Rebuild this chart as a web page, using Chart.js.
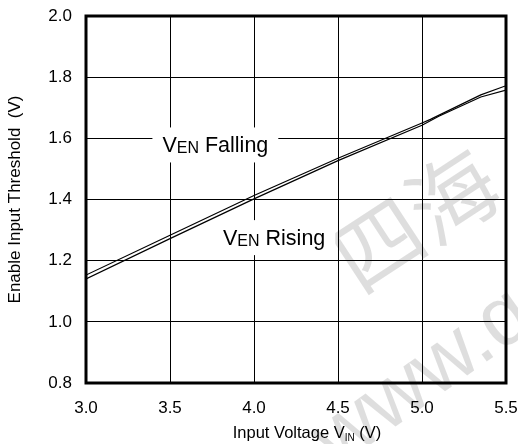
<!DOCTYPE html>
<html lang="en">
<head>
    <meta charset="UTF-8">
    <title>Enable Input Threshold</title>
    <script src="https://cdn.jsdelivr.net/npm/chart.js"></script>
    <style>
        html, body { margin: 0; padding: 0; background: #fff; }
        #wrap { width: 518px; height: 444px; }
    </style>
</head>
<body>
    <div id="wrap"><canvas id="thresholdChart"></canvas></div>

    <script>
        // values
        const vinFalling = [3.0, 3.5, 4.0, 4.5, 5.0, 5.05, 5.35, 5.5];
        const venFalling = [1.153, 1.283, 1.413, 1.535, 1.650, 1.662, 1.742, 1.772];
        const vinRising = [3.0, 3.5, 4.0, 4.5, 5.0, 5.1, 5.35, 5.5];
        const venRising = [1.140, 1.272, 1.402, 1.527, 1.643, 1.672, 1.735, 1.758];
        const xTicks = [3.0, 3.5, 4.0, 4.5, 5.0, 5.5];
        const yTicks = [0.8, 1.0, 1.2, 1.4, 1.6, 1.8, 2.0];

        const FONT = '"Liberation Sans", Arial, sans-serif';

        // label spots in data units
        const labels = [
            { sub: 'EN', rest: ' Falling', x: 3.77, y: 1.58 },
            { sub: 'EN', rest: ' Rising', x: 4.12, y: 1.277 }
        ];

        function pts(xs, ys) {
            return xs.map((x, i) => ({ x: x, y: ys[i] }));
        }

        const watermark = {
            id: 'watermark',
            beforeDatasetsDraw(chart) {
                const ctx = chart.ctx;
                ctx.save();
                ctx.fillStyle = 'rgba(0,0,0,0.13)';
                ctx.textBaseline = 'middle';
                ctx.save();
                ctx.translate(412, 222);
                ctx.rotate(-0.58);
                ctx.font = '88px "Noto Sans CJK SC"';
                ctx.fillText('四海', -84, 0);
                ctx.restore();
                ctx.translate(400, 395);
                ctx.rotate(-0.62);
                ctx.font = '84px ' + FONT;
                ctx.fillText('www.q', -95, 0);
                ctx.restore();
            }
        };

        const extras = {
            id: 'extras',
            afterDraw(chart) {
                const ctx = chart.ctx;
                const a = chart.chartArea;
                const xs = chart.scales.x, ys = chart.scales.y;
                ctx.save();
                // frame
                ctx.strokeStyle = '#000';
                ctx.lineWidth = 3;
                ctx.strokeRect(a.left, a.top, a.right - a.left, a.bottom - a.top);

                // curve labels
                ctx.textBaseline = 'alphabetic';
                labels.forEach(l => {
                    ctx.font = '21.5px ' + FONT;
                    const wV = ctx.measureText('V').width;
                    const wR = ctx.measureText(l.rest).width;
                    ctx.font = '16px ' + FONT;
                    const wS = ctx.measureText(l.sub).width;
                    const w = wV + wS + wR;
                    const cx = xs.getPixelForValue(l.x);
                    const cy = ys.getPixelForValue(l.y);
                    ctx.fillStyle = '#fff';
                    ctx.fillRect(cx - w / 2 - 10, cy - 17, w + 20, 35);
                    ctx.fillStyle = '#000';
                    let x0 = cx - w / 2;
                    const base = cy + 8;
                    ctx.font = '21.5px ' + FONT;
                    ctx.fillText('V', x0, base);
                    ctx.font = '16px ' + FONT;
                    ctx.fillText(l.sub, x0 + wV, base + 1);
                    ctx.font = '21.5px ' + FONT;
                    ctx.fillText(l.rest, x0 + wV + wS, base);
                });

                // x axis title with subscript
                const p1 = 'Input Voltage V', p2 = 'IN', p3 = ' (V)';
                ctx.font = '16.5px ' + FONT;
                const w1 = ctx.measureText(p1).width, w3 = ctx.measureText(p3).width;
                ctx.font = '10px ' + FONT;
                const w2 = ctx.measureText(p2).width;
                let tx = (a.left + a.right) / 2 + 11 - (w1 + w2 + w3) / 2;
                const ty = 438;
                ctx.font = '16.5px ' + FONT;
                ctx.fillText(p1, tx, ty);
                ctx.font = '10px ' + FONT;
                ctx.fillText(p2, tx + w1, ty + 3);
                ctx.font = '16.5px ' + FONT;
                ctx.fillText(p3, tx + w1 + w2, ty);
                ctx.restore();
            }
        };

        const ctx = document.getElementById('thresholdChart').getContext('2d');
        new Chart(ctx, {
            type: 'line',
            data: {
                datasets: [{
                    label: 'VEN Falling',
                    data: pts(vinFalling, venFalling),
                    borderColor: '#000',
                    borderWidth: 1.2,
                    pointRadius: 0,
                    tension: 0
                }, {
                    label: 'VEN Rising',
                    data: pts(vinRising, venRising),
                    borderColor: '#000',
                    borderWidth: 1.2,
                    pointRadius: 0,
                    tension: 0
                }]
            },
            options: {
                responsive: true,
                maintainAspectRatio: false,
                animation: false,
                layout: { padding: { left: 0, right: 12, top: 16, bottom: 0 } },
                plugins: {
                    legend: { display: false },
                    tooltip: { enabled: false }
                },
                scales: {
                    x: {
                        type: 'linear',
                        min: 3.0,
                        max: 5.5,
                        afterBuildTicks: s => { s.ticks = xTicks.map(v => ({ value: v })); },
                        afterFit: s => {
                            s.height = 61;
                            s.paddingLeft = 0;
                            s.paddingRight = 0;
                        },
                        grid: { color: '#000', lineWidth: 1, drawTicks: false },
                        border: { display: false },
                        ticks: {
                            color: '#000',
                            padding: 15,
                            font: { family: FONT, size: 17 },
                            callback: v => v.toFixed(1)
                        }
                    },
                    y: {
                        min: 0.8,
                        max: 2.0,
                        afterBuildTicks: s => { s.ticks = yTicks.map(v => ({ value: v })); },
                        afterFit: s => {
                            s.width = 86;
                            s.paddingTop = 0;
                            s.paddingBottom = 0;
                        },
                        grid: { color: '#000', lineWidth: 1, drawTicks: false },
                        border: { display: false },
                        ticks: {
                            color: '#000',
                            padding: 14,
                            font: { family: FONT, size: 17 },
                            callback: v => v.toFixed(1)
                        },
                        title: {
                            display: true,
                            text: 'Enable Input Threshold  (V)',
                            color: '#000',
                            padding: { top: 5, bottom: 0 },
                            font: { family: FONT, size: 17 }
                        }
                    }
                }
            },
            plugins: [watermark, extras]
        });
    </script>
</body>
</html>
